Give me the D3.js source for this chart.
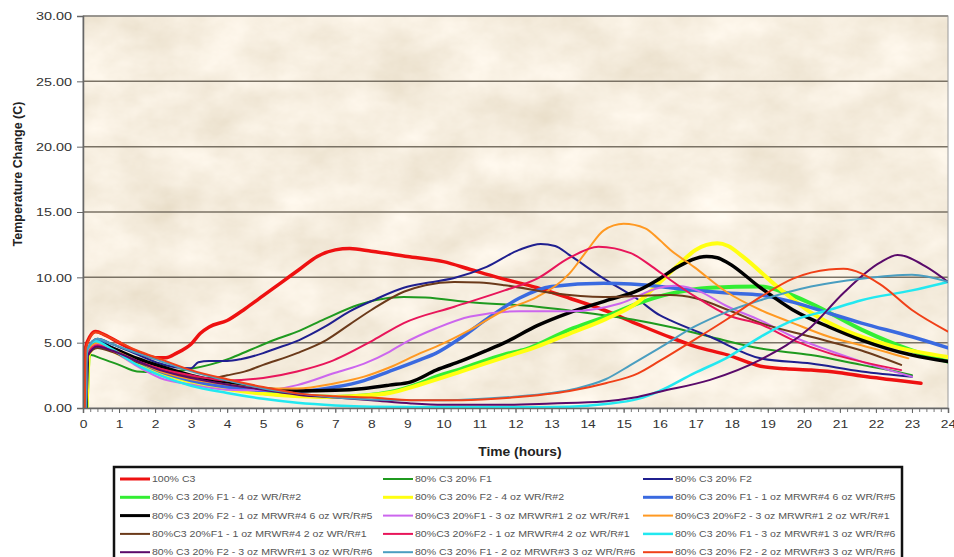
<!DOCTYPE html>
<html>
<head>
<meta charset="utf-8">
<script src="https://cdn.jsdelivr.net/npm/d3@7"></script>
<style>
  body { margin: 0; background: #fff; }
  svg { display: block; }
  text { font-family: Arial, "Liberation Sans", sans-serif; }
</style>
</head>
<body>
<svg id="chart" width="954" height="557"></svg>
<script>
// Axis ticks
const hourTicks = d3.range(0, 25);
const tempTicks = [0, 5, 10, 15, 20, 25, 30];

// Temperature change (C) against time (hours), one [hours, value] list per mix
const c3_100 = [[0.02,0],[0.06,4.5],[0.2,5.5],[0.35,5.85],[0.6,5.6],[1,5.0],[1.5,4.3],[2,3.85],[2.3,3.85],[2.6,4.2],[3.0,4.9],[3.25,5.7],[3.5,6.2],[4,6.7],[4.5,7.6],[5,8.6],[5.5,9.6],[6,10.6],[6.5,11.6],[7,12.1],[7.4,12.2],[8,12.0],[9,11.6],[10,11.2],[10.75,10.6],[11.5,10.0],[12.6,9.2],[13.5,8.4],[14.45,7.5],[15.4,6.4],[16.3,5.4],[17,4.7],[17.9,4.05],[18.8,3.2],[19.5,3.0],[20.2,2.9],[21,2.7],[21.6,2.45],[22.5,2.15],[23.25,1.9]];
const c3_f1 = [[0.08,0],[0.15,3.6],[0.22,4.05],[0.5,3.8],[1,3.3],[1.5,2.8],[2,2.75],[2.5,2.8],[3,3.0],[3.5,3.3],[4.08,3.8],[4.6,4.4],[5.3,5.2],[6,5.9],[6.7,6.8],[7.65,7.9],[8.1,8.25],[8.9,8.5],[9.5,8.45],[10.75,8.1],[12.6,7.75],[14.45,7.1],[15.4,6.7],[16.3,6.2],[17.4,5.45],[18.8,4.55],[20.2,4.05],[21.6,3.3],[22.7,2.7],[23.0,2.5]];
const c3_f2 = [[0.07,0],[0.12,4.5],[0.4,5.3],[0.8,4.9],[1.5,4.1],[2.14,3.4],[2.6,3.1],[3.0,3.05],[3.2,3.5],[3.5,3.6],[4.0,3.6],[4.4,3.75],[5,4.2],[5.3,4.5],[6,5.2],[6.7,6.2],[7.4,7.4],[8.1,8.3],[8.9,9.2],[9.6,9.6],[10.3,9.95],[11.2,10.8],[12.1,12.1],[12.7,12.55],[13.1,12.4],[13.5,11.7],[14.45,9.9],[15.4,8.3],[16.0,7.1],[16.3,6.7],[17.4,5.45],[18.8,3.8],[20.2,3.4],[21.6,2.8],[23.0,2.4]];
const f1_4ozWR2 = [[0.1,0],[0.17,4.3],[0.4,4.9],[0.8,4.5],[1.5,3.5],[2.14,2.7],[3,2.1],[4,1.5],[5,1.15],[6,0.95],[7,0.85],[7.8,0.95],[8.5,1.2],[9.36,1.9],[9.8,2.4],[10.5,3.0],[11.7,4.1],[12.3,4.5],[13.5,6.0],[14.5,7.0],[15.4,8.0],[16.3,8.75],[17.4,9.2],[18.8,9.3],[19.5,8.8],[20.2,8.0],[21.6,6.0],[23.0,4.4],[24,3.55]];
const f2_4ozWR2 = [[0.1,0],[0.17,4.2],[0.4,4.8],[0.8,4.4],[1.5,3.4],[2.14,2.7],[3,2.0],[4,1.45],[5,1.1],[6,0.9],[7,0.85],[7.8,0.95],[8.5,1.15],[9.36,1.8],[10.5,2.8],[11.7,3.9],[12.5,4.6],[13.5,5.7],[14.5,6.8],[15.4,8.1],[16.0,9.6],[16.5,10.9],[17,12.1],[17.6,12.6],[17.9,12.4],[18.3,11.6],[19.3,9.2],[20.2,7.3],[21.1,6.0],[22.5,4.7],[24,3.9]];
const f1_1ozMR4_6ozWR5 = [[0.08,0],[0.13,4.4],[0.4,5.1],[0.8,4.6],[1.5,3.6],[2.14,2.8],[3,2.1],[4,1.6],[5,1.35],[6,1.3],[7,1.6],[7.8,2.1],[8.5,2.8],[9.36,3.7],[9.8,4.2],[10.5,5.4],[11.2,6.8],[12.1,8.4],[13,9.3],[14.45,9.55],[16.0,9.3],[16.3,9.2],[17.9,8.8],[18.8,8.65],[19.7,8.1],[20.7,7.25],[21.6,6.5],[23,5.45],[24,4.6]];
const f2_1ozMR4_6ozWR5 = [[0.08,0],[0.13,4.3],[0.4,5.0],[0.8,4.6],[1.5,3.8],[2.14,3.2],[3,2.5],[4,1.9],[5,1.5],[5.94,1.3],[7,1.35],[7.8,1.5],[8.5,1.75],[9.1,2.0],[9.8,2.9],[10.5,3.6],[11.2,4.4],[11.7,5.0],[12.6,6.3],[13.5,7.3],[14.5,8.2],[15.4,9.0],[16,9.9],[16.5,10.8],[17.3,11.6],[17.6,11.5],[17.9,11.1],[18.8,9.2],[19.7,7.5],[20.7,6.2],[21.6,5.2],[23,4.05],[24,3.55]];
const f1_3ozMR1_2ozWR1 = [[0.08,0],[0.13,4.3],[0.4,4.9],[0.8,4.4],[1.5,3.2],[2.14,2.3],[3,1.8],[4,1.4],[5,1.35],[5.94,1.75],[7,2.7],[7.8,3.4],[8.5,4.3],[8.9,4.95],[9.8,6.1],[10.75,7.0],[12.1,7.4],[13.5,7.4],[14.9,8.0],[16,9.2],[16.4,9.35],[16.95,9.1],[17.9,7.75],[18.8,6.7],[19.7,5.45],[20.7,4.4],[21.6,3.55],[23,2.4]];
const f2_3ozMR1_2ozWR1 = [[0.08,0],[0.13,4.3],[0.4,5.0],[0.8,4.5],[1.5,3.6],[2.14,2.8],[3,2.2],[4,1.8],[5,1.5],[5.94,1.5],[7,1.9],[7.8,2.4],[8.5,3.1],[9.36,4.2],[9.8,4.7],[10.75,6.0],[11.7,7.5],[12.6,8.5],[13.5,10.3],[14,12.1],[14.45,13.6],[15,14.1],[15.6,13.75],[16,12.85],[16.3,12.1],[16.95,10.8],[17.9,8.8],[18.8,7.5],[19.7,6.5],[20.7,5.45],[21.6,4.8],[22.9,3.8]];
const f1_1ozMR4_2ozWR1 = [[0.08,0],[0.13,4.0],[0.4,4.6],[0.8,4.3],[1.5,3.5],[2.14,3.0],[3,2.4],[3.6,2.3],[4,2.5],[4.5,2.8],[5,3.3],[5.94,4.2],[6.75,5.2],[7.4,6.4],[8,7.5],[8.9,8.9],[9.5,9.4],[10.3,9.65],[11,9.6],[11.7,9.4],[13,8.8],[14.45,8.5],[16.3,8.65],[17,8.4],[17.9,7.5],[18.8,6.5],[20.2,5.45],[21.6,4.4],[22.7,3.3]];
const f2_1ozMR4_2ozWR1 = [[0.08,0],[0.13,4.2],[0.4,4.8],[0.8,4.4],[1.5,3.6],[2.14,3.0],[3,2.5],[4,2.1],[5,2.3],[5.94,2.8],[6.86,3.55],[8.06,5.2],[8.9,6.5],[10.3,7.75],[11.7,9.0],[12.6,9.9],[13.5,11.5],[14.3,12.35],[15.2,11.85],[15.8,10.8],[16.3,9.8],[17,8.5],[17.9,7.1],[18.8,6.4],[19.7,5.2],[20.7,4.2],[21.6,3.55],[22.7,2.9]];
const f1_3ozMR1_3ozWR6 = [[0.08,0],[0.12,4.5],[0.35,5.1],[0.8,4.5],[1.5,3.3],[2.14,2.5],[3,1.7],[4,1.15],[5,0.7],[5.94,0.4],[7,0.2],[8,0.1],[10,0.05],[12,0.05],[13.5,0.1],[14.5,0.3],[15.4,0.7],[16,1.3],[16.95,2.65],[17.9,3.9],[18.8,5.45],[19.7,6.7],[20.7,7.5],[21.6,8.25],[23,9.0],[24,9.65]];
const f2_3ozMR1_3ozWR6 = [[0.08,0],[0.13,4.0],[0.4,4.7],[0.8,4.4],[1.5,3.6],[2.14,2.9],[3,2.3],[4,1.8],[5,1.4],[6,1.0],[7,0.8],[8,0.6],[9.1,0.35],[10,0.25],[11.7,0.25],[13,0.35],[14.45,0.5],[15.3,0.8],[16,1.25],[17.4,2.15],[18.8,3.7],[20.2,6.2],[21.1,8.8],[22.1,11.1],[22.6,11.7],[23.4,10.8],[24,9.65]];
const f1_2ozMR3_3ozWR6 = [[0.08,0],[0.12,4.5],[0.4,5.3],[0.8,4.9],[1.5,4.2],[2.14,3.6],[3,2.8],[4,2.1],[5,1.5],[6,1.1],[7,0.8],[8,0.65],[9,0.6],[10,0.6],[11.9,0.85],[13,1.15],[13.7,1.5],[14.5,2.2],[15.2,3.3],[16.0,4.6],[16.95,6.2],[17.9,7.4],[18.8,8.25],[20.2,9.3],[21.6,9.9],[23,10.2],[24,9.65]];
const f2_2ozMR3_3ozWR6 = [[0.05,0],[0.08,4.6],[0.35,5.8],[0.8,5.3],[1.5,4.4],[2.14,3.75],[3,2.9],[4,2.2],[5,1.6],[6,1.1],[7,0.9],[8,0.8],[9.1,0.6],[10.5,0.6],[11.9,0.8],[13.5,1.3],[14.5,1.9],[15.4,2.65],[16,3.6],[16.95,5.2],[17.9,6.85],[18.8,8.5],[19.7,9.9],[20.7,10.6],[21.1,10.65],[22.1,9.5],[23,7.5],[24,5.85]];

const seriesNames = [
  "100% C3",
  "80% C3 20% F1",
  "80% C3 20% F2",
  "80% C3 20% F1 - 4 oz WR/R#2",
  "80% C3 20% F2 - 4 oz WR/R#2",
  "80% C3 20% F1 - 1 oz MRWR#4 6 oz WR/R#5",
  "80% C3 20% F2 - 1 oz MRWR#4 6 oz WR/R#5",
  "80%C3 20%F1 - 3 oz MRWR#1 2 oz WR/R#1",
  "80%C3 20%F2 - 3 oz MRWR#1 2 oz WR/R#1",
  "80%C3 20%F1 - 1 oz MRWR#4 2 oz WR/R#1",
  "80%C3 20%F2 - 1 oz MRWR#4 2 oz WR/R#1",
  "80% C3 20% F1 - 3 oz MRWR#1 3 oz WR/R#6",
  "80% C3 20% F2 - 3 oz MRWR#1 3 oz WR/R#6",
  "80% C3 20% F1 - 2 oz MRWR#3 3 oz WR/R#6",
  "80% C3 20% F2 - 2 oz MRWR#3 3 oz WR/R#6"
];
const seriesValues = [c3_100, c3_f1, c3_f2, f1_4ozWR2, f2_4ozWR2, f1_1ozMR4_6ozWR5, f2_1ozMR4_6ozWR5,
  f1_3ozMR1_2ozWR1, f2_3ozMR1_2ozWR1, f1_1ozMR4_2ozWR1, f2_1ozMR4_2ozWR1,
  f1_3ozMR1_3ozWR6, f2_3ozMR1_3ozWR6, f1_2ozMR3_3ozWR6, f2_2ozMR3_3ozWR6];
const seriesColors = ["#ee1111","#1f9a1f","#1f1f8f","#33ee33","#ffff11","#3a6ae0","#000000",
  "#cc66ee","#ff9922","#6b3a1a","#e8155a","#22e8f0","#5a0a6a","#4a9ec0","#f04018"];
const seriesWidths = [3.5,2,2,4,4,3.5,3.5,2,2,2,2,2.5,2,2,2];

const series = seriesNames.map((name, i) => ({
  name, values: seriesValues[i], color: seriesColors[i], width: seriesWidths[i]
}));

const svg = d3.select("#chart");
const plot = { left: 83, top: 16, right: 948, bottom: 408 };

const x = d3.scaleLinear().domain([0, 24]).range([plot.left, plot.right]);
const y = d3.scaleLinear().domain([0, 30]).range([plot.bottom, plot.top]);

// Widen text glyphs horizontally
function widen(sel, k) {
  sel.each(function () {
    const w = this.getComputedTextLength();
    this.setAttribute("textLength", (w * k).toFixed(2));
    this.setAttribute("lengthAdjust", "spacingAndGlyphs");
  });
}

// Parchment texture for the plot area
const defs = svg.append("defs");
const paper = defs.append("filter").attr("id", "paper")
  .attr("filterUnits", "userSpaceOnUse")
  .attr("x", plot.left).attr("y", plot.top)
  .attr("width", plot.right - plot.left).attr("height", plot.bottom - plot.top);
paper.append("feTurbulence").attr("type", "fractalNoise")
  .attr("baseFrequency", "0.016 0.022").attr("numOctaves", 5).attr("seed", 11).attr("result", "noise");
paper.append("feColorMatrix").attr("in", "noise").attr("type", "matrix")
  .attr("values", "0.24 0 0 0 0.80  0.27 0 0 0 0.715  0.34 0 0 0 0.565  0 0 0 0 1");

defs.append("clipPath").attr("id", "plotClip").append("rect")
  .attr("x", plot.left).attr("y", plot.top)
  .attr("width", plot.right - plot.left).attr("height", plot.bottom - plot.top);

svg.append("rect")
  .attr("x", plot.left).attr("y", plot.top)
  .attr("width", plot.right - plot.left).attr("height", plot.bottom - plot.top)
  .attr("fill", "#e8d9ba").attr("filter", "url(#paper)");

// Horizontal gridlines
svg.append("g").selectAll("line").data(tempTicks.filter(d => d > 0)).join("line")
  .attr("x1", plot.left).attr("x2", plot.right)
  .attr("y1", d => y(d)).attr("y2", d => y(d))
  .attr("stroke", "#7a7265").attr("stroke-width", 1.5);

// Plot frame
svg.append("rect")
  .attr("x", plot.left).attr("y", plot.top)
  .attr("width", plot.right - plot.left).attr("height", plot.bottom - plot.top)
  .attr("fill", "none").attr("stroke", "#9a9a9a").attr("stroke-width", 1);

// Curves
const line = d3.line().x(d => x(d[0])).y(d => y(d[1])).curve(d3.curveMonotoneX);
svg.append("g").attr("clip-path", "url(#plotClip)")
  .selectAll("path").data(series).join("path")
  .attr("d", d => line(d.values))
  .attr("fill", "none")
  .attr("stroke", d => d.color)
  .attr("stroke-width", d => d.width)
  .attr("stroke-linejoin", "round")
  .attr("stroke-linecap", "round");

// Y axis
const yAxis = svg.append("g").attr("transform", `translate(${plot.left},0)`)
  .call(d3.axisLeft(y).tickValues(tempTicks).tickFormat(d3.format(".2f")).tickSize(6).tickPadding(5));
yAxis.select(".domain").attr("stroke", "#666").attr("stroke-width", 1.5);
yAxis.selectAll(".tick line").attr("stroke", "#666");
yAxis.selectAll("text").attr("font-size", 11.5).attr("fill", "#333")
  .attr("font-family", "Arial, 'Liberation Sans', sans-serif");
widen(yAxis.selectAll("text"), 1.25);

// X axis: minor ticks every 0.2 h, labelled ticks every hour
const minor = svg.append("g").attr("transform", `translate(0,${plot.bottom})`)
  .call(d3.axisBottom(x).tickValues(d3.range(0, 120.5).map(d => d / 5)).tickSize(4).tickFormat(""));
minor.select(".domain").remove();
minor.selectAll(".tick line").attr("stroke", "#777");

const xAxis = svg.append("g").attr("transform", `translate(0,${plot.bottom})`)
  .call(d3.axisBottom(x).tickValues(hourTicks).tickSize(5).tickPadding(7));
xAxis.select(".domain").attr("stroke", "#666").attr("stroke-width", 1.5);
xAxis.selectAll(".tick line").attr("stroke", "#666");
xAxis.selectAll("text").attr("font-size", 11.5).attr("fill", "#333")
  .attr("font-family", "Arial, 'Liberation Sans', sans-serif");
widen(xAxis.selectAll("text"), 1.2);

// Axis titles
svg.append("text")
  .attr("transform", "translate(22,174) rotate(-90)")
  .attr("text-anchor", "middle")
  .attr("font-size", 12.5).attr("font-weight", "bold").attr("fill", "#222")
  .text("Temperature Change (C)");

const xTitle = svg.append("text")
  .attr("x", 520).attr("y", 456)
  .attr("text-anchor", "middle")
  .attr("font-size", 12).attr("font-weight", "bold").attr("fill", "#222")
  .text("Time (hours)");
widen(xTitle, 1.15);

// Legend
const legend = svg.append("g");
legend.append("rect")
  .attr("x", 114).attr("y", 467).attr("width", 788).attr("height", 110)
  .attr("fill", "#fff").attr("stroke", "#111").attr("stroke-width", 2.5);

const colX = [120, 383, 643];
const items = legend.selectAll("g.item").data(series).join("g")
  .attr("class", "item")
  .attr("transform", (d, i) => `translate(${colX[i % 3]},${479 + Math.floor(i / 3) * 18.3})`);
items.append("line")
  .attr("x1", 0).attr("x2", 30).attr("y1", 0).attr("y2", 0)
  .attr("stroke", d => d.color)
  .attr("stroke-width", d => Math.min(d.width, 3));
const legendText = items.append("text")
  .attr("x", 32).attr("y", 0).attr("dy", "0.35em")
  .attr("font-size", 8.8).attr("fill", "#555")
  .text(d => d.name);
widen(legendText, 1.2);
</script>
</body>
</html>
